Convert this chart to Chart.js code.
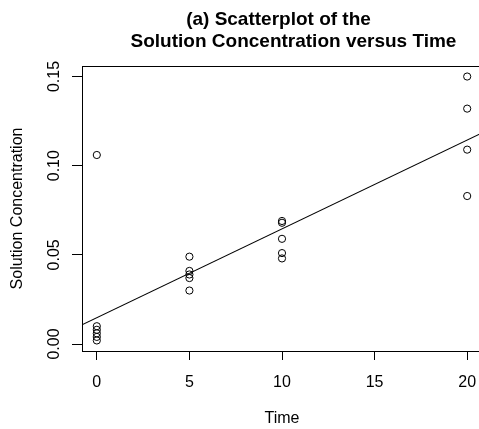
<!DOCTYPE html>
<html><head><meta charset="utf-8">
<script src="https://cdn.jsdelivr.net/npm/chart.js@4/dist/chart.umd.min.js"></script>
<style>
html,body{margin:0;padding:0;overflow:hidden;background:#fff;width:479px;height:429px}
#wrap{position:absolute;left:0;top:0;width:490px;height:429px}
</style>
</head><body><div id="wrap"><canvas id="c" width="490" height="429"></canvas></div>
<script>
// ---- data ----
const titleLines = ['(a) Scatterplot of the', 'Solution Concentration versus Time'];
const xAxisTitle = 'Time';
const yAxisTitle = 'Solution Concentration';
const timeValues = [0, 0, 0, 0, 0, 0, 5, 5, 5, 5, 5, 10, 10, 10, 10, 10, 20, 20, 20, 20];
const concentrationValues = [0.106, 0.010, 0.008, 0.006, 0.004, 0.002,
  0.049, 0.041, 0.039, 0.037, 0.030,
  0.069, 0.068, 0.059, 0.051, 0.048,
  0.150, 0.132, 0.109, 0.083];
const fitIntercept = 0.0148;
const fitSlope = 0.00498;
const xTickValues = [0, 5, 10, 15, 20];
const xTickLabels = ['0', '5', '10', '15', '20'];
const yTickValues = [0, 0.05, 0.10, 0.15];
const yTickLabels = ['0.00', '0.05', '0.10', '0.15'];
const xRange = [-0.8, 20.8];
const yRange = [-0.0039, 0.1559];

// ---- build ----
const points = timeValues.map((t, i) => ({ x: t, y: concentrationValues[i] }));
const fitLine = xRange.map(x => ({ x: x, y: fitIntercept + fitSlope * x }));

const FONT = '"Liberation Sans", Arial, Helvetica, sans-serif';

const rDecor = {
  id: 'rDecor',
  afterDraw(chart) {
    const ctx = chart.ctx, a = chart.chartArea, xs = chart.scales.x, ys = chart.scales.y;
    ctx.save();
    ctx.strokeStyle = '#000'; ctx.lineWidth = 1;
    ctx.strokeRect(Math.round(a.left) + 0.5, Math.round(a.top) + 0.5,
      Math.round(a.right - a.left), Math.round(a.bottom - a.top));
    ctx.fillStyle = '#000';
    ctx.font = '16px ' + FONT;
    ctx.textAlign = 'center'; ctx.textBaseline = 'alphabetic';
    xTickValues.forEach((v, i) => ctx.fillText(xTickLabels[i], xs.getPixelForValue(v), 387));
    yTickValues.forEach((v, i) => {
      ctx.save();
      ctx.translate(58.5, ys.getPixelForValue(v));
      ctx.rotate(-Math.PI / 2);
      ctx.fillText(yTickLabels[i], 0, 0);
      ctx.restore();
    });
    ctx.fillText(xAxisTitle, (a.left + a.right) / 2, 423);
    ctx.save();
    ctx.translate(22, (a.top + a.bottom) / 2);
    ctx.rotate(-Math.PI / 2);
    ctx.fillText(yAxisTitle, 0, 0);
    ctx.restore();
    ctx.font = 'bold 19px ' + FONT;
    ctx.fillText(titleLines[0], 278.5, 25);
    ctx.fillText(titleLines[1], 293.5, 46.7);
    ctx.restore();
  }
};

new Chart(document.getElementById('c'), {
  type: 'scatter',
  data: {
    datasets: [
      { data: points, showLine: false, pointStyle: 'circle', pointRadius: 3.6,
        pointBorderWidth: 1, pointBorderColor: '#000', pointBackgroundColor: 'rgba(0,0,0,0)' },
      { data: fitLine, showLine: true, borderColor: '#000', borderWidth: 1.1,
        pointRadius: 0, fill: false }
    ]
  },
  options: {
    responsive: false, animation: false, devicePixelRatio: 1,
    layout: { autoPadding: false, padding: { left: 0, top: 66, right: 8, bottom: 0 } },
    plugins: { legend: { display: false }, tooltip: { enabled: false }, title: { display: false } },
    scales: {
      x: {
        type: 'linear', min: xRange[0], max: xRange[1],
        afterBuildTicks: s => { s.ticks = xTickValues.map(v => ({ value: v })); },
        afterFit: s => { s.height = 78; },
        ticks: { display: false },
        border: { display: false },
        grid: { display: true, drawOnChartArea: false, drawTicks: true, tickLength: 9,
          color: '#000', tickColor: '#000', lineWidth: 1, tickWidth: 1 }
      },
      y: {
        type: 'linear', min: yRange[0], max: yRange[1],
        afterBuildTicks: s => { s.ticks = yTickValues.map(v => ({ value: v })); },
        afterFit: s => { s.width = 82; },
        ticks: { display: false },
        border: { display: false },
        grid: { display: true, drawOnChartArea: false, drawTicks: true, tickLength: 10,
          color: '#000', tickColor: '#000', lineWidth: 1, tickWidth: 1 }
      }
    }
  },
  plugins: [rDecor]
});
</script>
</body></html>
